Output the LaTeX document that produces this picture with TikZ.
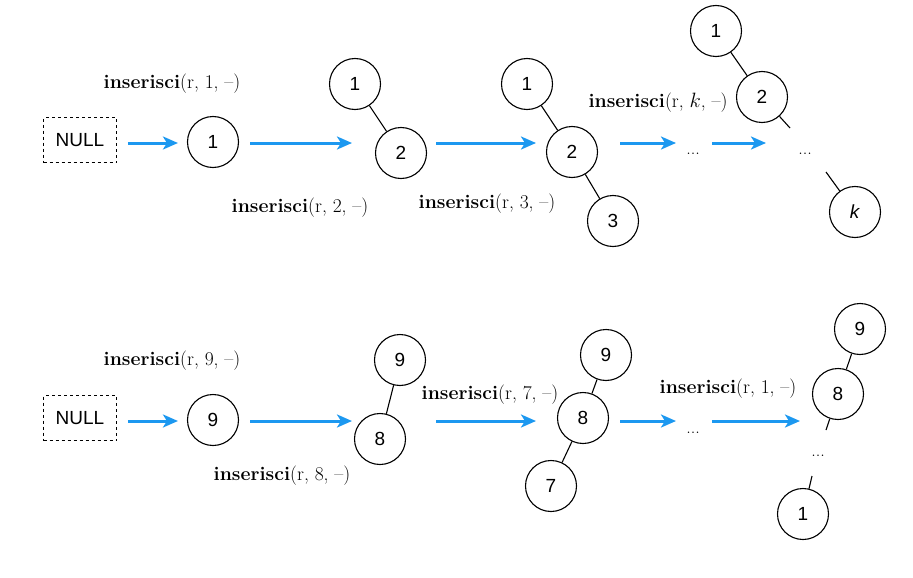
\documentclass[tikz,border=0pt]{standalone}
\usepackage{fontspec}
\newfontfamily\helv{Liberation Sans}
\usetikzlibrary{arrows.meta}
\definecolor{flowblue}{RGB}{28,152,240}
\tikzset{
  key/.style={circle, draw, line width=1.1pt, minimum size=51pt, inner sep=0pt, font=\helv\fontsize{19}{22}\selectfont},
  nullbox/.style={draw, dashed, line width=0.9pt, minimum width=73pt, minimum height=45pt, inner sep=0pt, font=\helv\fontsize{19}{22}\selectfont},
  op/.style={font=\fontsize{19.5}{23}\selectfont, inner sep=0pt},
  dots/.style={font=\fontsize{18}{21}\selectfont, inner sep=0pt},
  step arrow/.style={draw=flowblue, line width=3pt, -{Stealth[length=15pt, width=13pt, inset=4pt]}},
  link/.style={line width=1.1pt}
}
\begin{document}
\begin{tikzpicture}[x=1pt, y=-1pt]
\useasboundingbox (0,0) rectangle (913,578);

% ---------- first row: inserting 1, 2, 3, ..., k ----------
\node[nullbox] (n0) at (80,140) {NULL};
\node[key] (a1) at (213,142) {1};
\node[op] (l1) at (172,84) {\textbf{inserisci}(r, 1, --)};

\node[key] (b1) at (355,84) {1};
\node[key] (b2) at (401,153) {2};
\draw[link] (b1) -- (b2);
\node[op] (l2) at (300,208) {\textbf{inserisci}(r, 2, --)};

\node[key] (c1) at (527,84) {1};
\node[key] (c2) at (572,152) {2};
\node[key] (c3) at (613,221) {3};
\draw[link] (c1) -- (c2);
\draw[link] (c2) -- (c3);
\node[op] (l3) at (487,204) {\textbf{inserisci}(r, 3, --)};

\node[dots] (d0) at (693,154) {...};
\node[op] (lk) at (658,103) {\textbf{inserisci}(r, $k$, --)};

\node[key] (e1) at (716,31) {1};
\node[key] (e2) at (762,97) {2};
\node[dots] (e3) at (805,154) {...};
\node[key] (ek) at (855,212) {\textit{k}};
\coordinate (e2s) at (790,128);
\coordinate (eks) at (826,172);
\draw[link] (e1) -- (e2);
\draw[link] (e2) -- (e2s);
\draw[link] (eks) -- (ek);

\path (250,143) coordinate (s2) (352,143) coordinate (t2)
      (436,143) coordinate (s3) (536,143) coordinate (t3)
      (620,143) coordinate (s4) (676,143) coordinate (t4)
      (712,143) coordinate (s5) (766,143) coordinate (t5);
\draw[step arrow] ([xshift=11pt,yshift=-3pt]n0.east) -- ([xshift=-9pt,yshift=-1pt]a1.west);
\draw[step arrow] (s2) -- (t2);
\draw[step arrow] (s3) -- (t3);
\draw[step arrow] (s4) -- (t4);
\draw[step arrow] (s5) -- (t5);

% ---------- second row: inserting 9, 8, 7, ..., 1 ----------
\node[nullbox] (m0) at (80,418) {NULL};
\node[key] (p9) at (213,420) {9};
\node[op] (k1) at (172,361) {\textbf{inserisci}(r, 9, --)};

\node[key] (q9) at (400,360) {9};
\node[key] (q8) at (380,439) {8};
\draw[link] (q9) -- (q8);
\node[op] (k2) at (282,476) {\textbf{inserisci}(r, 8, --)};

\node[key] (r9) at (606,355) {9};
\node[key] (r8) at (583,418) {8};
\node[key] (r7) at (551,486) {7};
\draw[link] (r9) -- (r8);
\draw[link] (r8) -- (r7);
\node[op] (k3) at (490,395) {\textbf{inserisci}(r, 7, --)};

\node[dots] (u0) at (693,433) {...};
\node[op] (k4) at (728,389) {\textbf{inserisci}(r, 1, --)};

\node[key] (v9) at (860,329) {9};
\node[key] (v8) at (838,394) {8};
\node[dots] (v0) at (818,456) {...};
\node[key] (v1) at (803,514) {1};
\coordinate (v8s) at (826,430);
\coordinate (v1s) at (812,476);
\draw[link] (v9) -- (v8);
\draw[link] (v8) -- (v8s);
\draw[link] (v1s) -- (v1);

\path (250,421) coordinate (s7) (352,421) coordinate (t7)
      (436,421) coordinate (s8) (536,421) coordinate (t8)
      (620,421) coordinate (s9) (676,421) coordinate (t9)
      (712,421) coordinate (s10) (800,421) coordinate (t10);
\draw[step arrow] ([xshift=11pt,yshift=-3pt]m0.east) -- ([xshift=-9pt,yshift=-1pt]p9.west);
\draw[step arrow] (s7) -- (t7);
\draw[step arrow] (s8) -- (t8);
\draw[step arrow] (s9) -- (t9);
\draw[step arrow] (s10) -- (t10);
\end{tikzpicture}
\end{document}
